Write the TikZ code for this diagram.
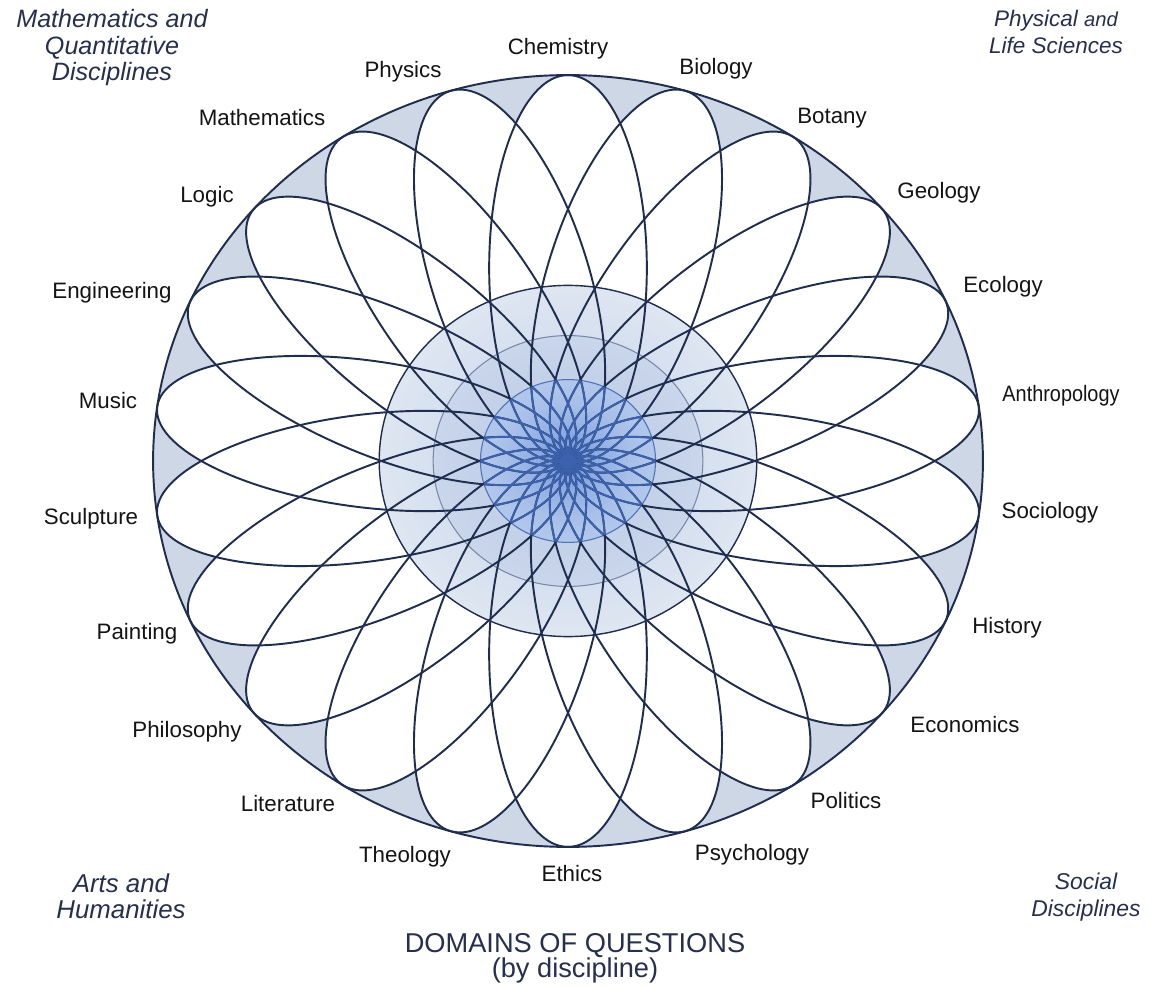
\documentclass[tikz,border=0pt]{standalone}
\usepackage{graphicx}
\usepackage{fontspec}
\setmainfont{Liberation Sans}

\definecolor{ink}{RGB}{31,45,78}
\definecolor{navy}{RGB}{38,48,78}
\definecolor{ringfill}{RGB}{205,215,229}
\definecolor{midline}{RGB}{118,135,170}
\definecolor{coreline}{RGB}{78,114,182}
\definecolor{coreink}{RGB}{60,98,175}
% tints of the three central zones, outer edge -> inner edge
\definecolor{zoneAout}{RGB}{222,230,241}
\definecolor{zoneAin}{RGB}{214,224,239}
\definecolor{zoneBout}{RGB}{202,214,234}
\definecolor{zoneBin}{RGB}{194,208,233}
\definecolor{zoneCout}{RGB}{176,198,235}
\definecolor{zoneCin}{RGB}{105,146,218}

\begin{document}
\begin{tikzpicture}[x=0.02cm, y=-0.02cm,
  petalline/.style={draw=ink, line width=1.1pt},
  lab/.style={font=\fontsize{12.7}{15}\selectfont, text=black!92, inner sep=0pt,
              text height=1.5ex, text depth=.25ex},
  cat/.style={text=navy, align=center, inner sep=0pt, anchor=north}]

\useasboundingbox (0,0) rectangle (1153,986);
\fill[white] (0,0) rectangle (1153,986);

% ---- the rosette of 22 petals inside the circle of questions ----
\begin{scope}[shift={(568,461)}, x=1cm, y=1cm, xscale=8.3, yscale=7.72]
  \fill[ringfill] (0,0) circle (1);
  \foreach \k in {0,...,21}
    \fill[white, rotate={90+\k*360/22}] (0.5,0) ellipse [x radius=0.5, y radius=0.19];

  % outer zone of the central field
  \foreach \i in {0,...,12} {
    \pgfmathsetmacro\rr{0.455-\i*0.01}
    \pgfmathtruncatemacro\pp{100*\i/12}
    \fill[fill=zoneAin!\pp!zoneAout] (0,0) circle (\rr);
  }
  % middle zone
  \foreach \i in {0,...,11} {
    \pgfmathsetmacro\rr{0.325-\i*0.0103}
    \pgfmathtruncatemacro\pp{100*\i/11}
    \fill[fill=zoneBin!\pp!zoneBout] (0,0) circle (\rr);
  }
  % inner zone, darkening toward the centre
  \foreach \i in {0,...,24} {
    \pgfmathsetmacro\rr{0.211*(1-\i/25)}
    \pgfmathtruncatemacro\pp{100*(\i/24)^1.6}
    \fill[fill=zoneCin!\pp!zoneCout] (0,0) circle (\rr);
  }

  \draw[midline, line width=0.6pt] (0,0) circle (0.325);
  \draw[coreline, line width=0.6pt] (0,0) circle (0.211);
  \draw[ink, line width=0.8pt] (0,0) circle (0.455);
  \foreach \k in {0,...,21}
    \draw[petalline, rotate={90+\k*360/22}] (0.5,0) ellipse [x radius=0.5, y radius=0.19];
  \begin{scope}
    \clip (0,0) circle (0.211);
    \foreach \k in {0,...,21}
      \draw[draw=coreink, line width=1.0pt, rotate={90+\k*360/22}] (0.5,0) ellipse [x radius=0.5, y radius=0.19];
  \end{scope}
  \fill[coreink] (0,0) circle (0.018);
  \draw[ink, line width=1.1pt] (0,0) circle (1);
\end{scope}

% ---- discipline labels ----
\node[lab] (chem)  at (558,49)  {Chemistry};
\node[lab] (bio)   at (716,69)  {Biology};
\node[lab] (bot)   at (832,118) {Botany};
\node[lab] (geo)   at (939,193) {Geology};
\node[lab] (eco)   at (1003,287) {Ecology};
\node[lab] (anth)  at (1061,396) {\scalebox{0.89}[1]{Anthropology}};
\node[lab] (soc)   at (1050,513) {Sociology};
\node[lab] (hist)  at (1007,628) {History};
\node[lab] (econ)  at (965,727) {Economics};
\node[lab] (pol)   at (846,803) {Politics};
\node[lab] (psy)   at (752,855) {Psychology};
\node[lab] (eth)   at (572,876) {Ethics};
\node[lab] (theo)  at (405,857) {Theology};
\node[lab] (lit)   at (288,806) {Literature};
\node[lab] (phil)  at (187,732) {Philosophy};
\node[lab] (paint) at (137,634) {Painting};
\node[lab] (sculp) at (91,519)  {Sculpture};
\node[lab] (mus)   at (108,403) {Music};
\node[lab] (eng)   at (112,293) {Engineering};
\node[lab] (logic) at (207,197) {Logic};
\node[lab] (math)  at (262,120) {Mathematics};
\node[lab] (phys)  at (403,72)  {Physics};

% ---- groups of disciplines in the corners ----
\node[cat, font=\itshape\fontsize{14.3}{15.1}\selectfont] (mq) at (112,9)
  {Mathematics and\\Quantitative\\Disciplines};
\node[cat, font=\itshape\fontsize{12.8}{15.4}\selectfont] (pl) at (1056,10)
  {Physical {\fontsize{11.5}{15}\selectfont and}\\Life Sciences};
\node[cat, font=\itshape\fontsize{14.7}{14.8}\selectfont] (ah) at (121,873)
  {Arts and\\Humanities};
\node[cat, font=\itshape\fontsize{13}{15.4}\selectfont] (sd) at (1086,873)
  {Social\\Disciplines};

% ---- caption ----
\node[cat, font=\fontsize{15.5}{14.2}\selectfont] (cap) at (575,933)
  {DOMAINS OF QUESTIONS\\(by discipline)};
\end{tikzpicture}
\end{document}
